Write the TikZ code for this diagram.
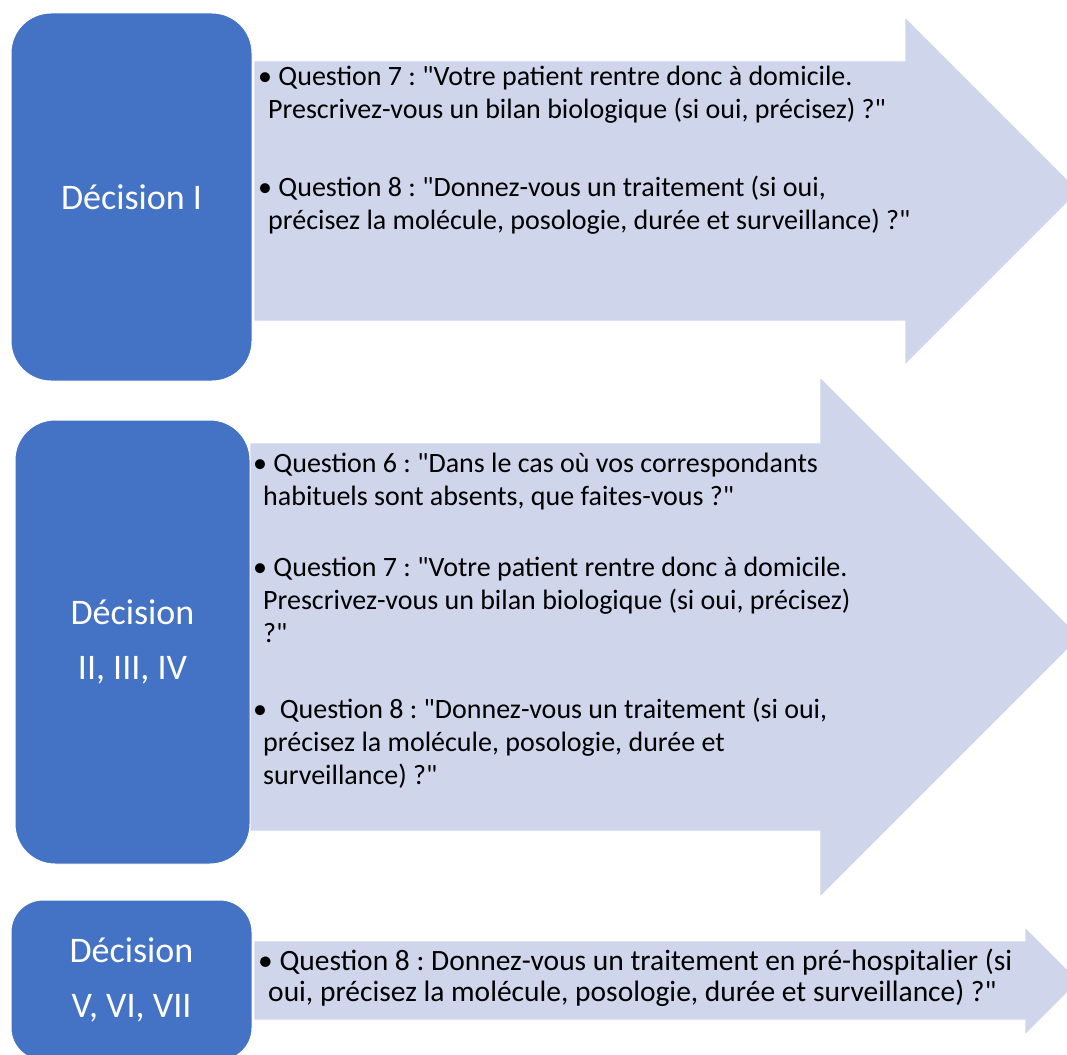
\documentclass[tikz,border=0pt]{standalone}
\usepackage{fontspec}
\newfontfamily\calibri{Carlito}
\definecolor{boxblue}{RGB}{68,114,196}
\definecolor{arrowfill}{RGB}{207,213,234}
\begin{document}
\frenchspacing
\begin{tikzpicture}[x=1pt,y=-1pt,
  decision/.style={draw=white, line width=1pt, fill=boxblue, rounded corners=40pt,
    text=white, font=\calibri\fontsize{36}{55}\selectfont, align=center, inner sep=0pt},
  arrowshape/.style={fill=arrowfill, draw=white, line width=0.8pt},
  qtext/.style={anchor=base west, inner sep=0pt, align=left,
    font=\calibri\fontsize{28}{33}\selectfont},
  qsmall/.style={qtext, font=\calibri\fontsize{29.5}{31}\selectfont}]
\useasboundingbox (0,0) rectangle (1067,1054);
\begin{scope}
\clip (0,0) rectangle (1067,1054);
% arrows
\path[arrowshape] (254,61) -- (905,61) -- (905,17) -- (1079,191) -- (905,365) -- (905,321) -- (254,321) -- cycle;
\path[arrowshape] (250,443) -- (820,443) -- (820,377) -- (1080,637) -- (820,897) -- (820,831) -- (250,831) -- cycle;
\path[arrowshape] (254,941) -- (1025,941) -- (1025,927) -- (1079,981) -- (1025,1035) -- (1025,1020) -- (254,1020) -- cycle;
% decision boxes
\node[decision, minimum width=241pt, minimum height=368pt] (d1) at (131.5,197) {Décision I};
\node[decision, minimum width=235pt, minimum height=444pt] (d2) at (132.5,642) {Décision\\II, III, IV};
\node[decision, rounded corners=32pt, minimum width=241pt, minimum height=160pt] (d3) at (131.5,980) {Décision\\V, VI, VII};
\end{scope}
% question texts (anchor = baseline of the last line)
\node[qtext] (a1q7) at (258,119) {• Question 7 : "Votre patient rentre donc à domicile.\\\hspace*{10pt}Prescrivez-vous un bilan biologique (si oui, précisez) ?"};
\node[qtext] (a1q8) at (258,229) {• Question 8 : "Donnez-vous un traitement (si oui,\\\hspace*{10pt}précisez la molécule, posologie, durée et surveillance) ?"};
\node[qtext] (a2q6) at (253,505) {• Question 6 : "Dans le cas où vos correspondants\\\hspace*{10pt}habituels sont absents, que faites-vous ?"};
\node[qtext] (a2q7) at (253,642) {• Question 7 : "Votre patient rentre donc à domicile.\\\hspace*{10pt}Prescrivez-vous un bilan biologique (si oui, précisez)\\\hspace*{10pt}?"};
\node[qtext] (a2q8) at (253,784) {•\ \ Question 8 : "Donnez-vous un traitement (si oui,\\\hspace*{10pt}précisez la molécule, posologie, durée et\\\hspace*{10pt}surveillance) ?"};
\node[qsmall] (a3q8) at (258,1001) {• Question 8 : Donnez-vous un traitement en pré-hospitalier (si\\\hspace*{10pt}oui, précisez la molécule, posologie, durée et surveillance) ?"};
\end{tikzpicture}
\end{document}
